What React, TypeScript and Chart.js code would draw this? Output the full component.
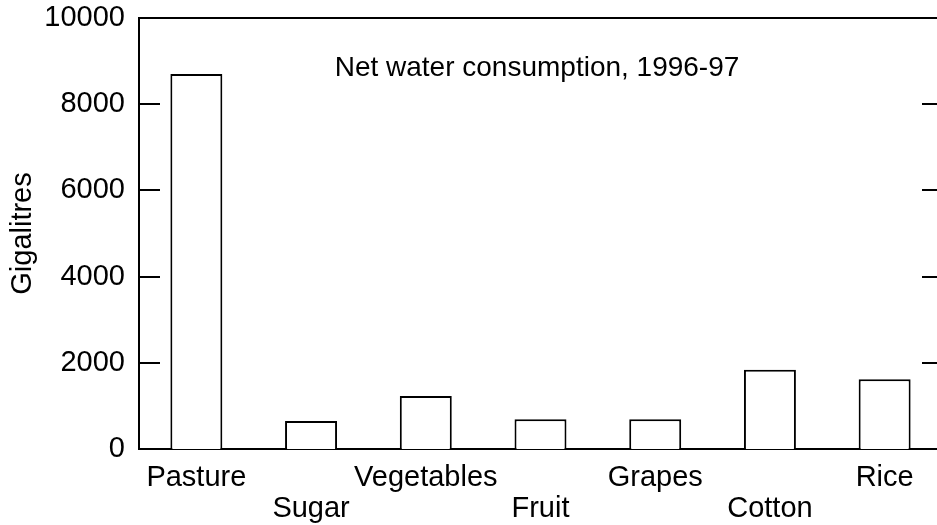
import React, { useEffect, useRef } from "react";
import { Chart, registerables } from "chart.js";

Chart.register(...registerables);

const categoryNames = ["Pasture", "Sugar", "Vegetables", "Fruit", "Grapes", "Cotton", "Rice"];
const labelRows = [0, 1, 0, 1, 0, 1, 0];
const consumption = [8700, 650, 1230, 690, 690, 1840, 1620];
const yTickValues = [0, 2000, 4000, 6000, 8000, 10000];
const innerTickValues = [2000, 4000, 6000, 8000];
const chartTitle = "Net water consumption, 1996-97";
const yAxisTitle = "Gigalitres";

const FONT = "'Liberation Sans', Arial, Helvetica, sans-serif";

const frameAndTitle = {
  id: "frameAndTitle",
  afterDraw(chart: any) {
    const { ctx, chartArea } = chart;
    const y = chart.scales.y;
    ctx.save();
    ctx.strokeStyle = "#000";
    ctx.lineWidth = 2;
    ctx.beginPath();
    ctx.moveTo(chartArea.left - 1, chartArea.top);
    ctx.lineTo(chartArea.right, chartArea.top);
    ctx.lineTo(chartArea.right, chartArea.bottom);
    innerTickValues.forEach((v) => {
      const py = Math.round(y.getPixelForValue(v));
      ctx.moveTo(chartArea.left, py);
      ctx.lineTo(chartArea.left + 21, py);
      ctx.moveTo(chartArea.right - 20, py);
      ctx.lineTo(chartArea.right, py);
    });
    ctx.stroke();
    ctx.fillStyle = "#000";
    ctx.font = `28px ${FONT}`;
    ctx.textAlign = "center";
    ctx.textBaseline = "middle";
    ctx.fillText(chartTitle, 537, 68);
    ctx.restore();
  },
};

export default function App() {
  const ref = useRef<HTMLCanvasElement | null>(null);

  useEffect(() => {
    if (!ref.current) return;
    const labels = categoryNames.map((n, i) => (labelRows[i] === 1 ? ["", n] : [n]));
    const chart = new Chart(ref.current, {
      type: "bar",
      data: {
        labels,
        datasets: [
          {
            data: consumption,
            backgroundColor: "#ffffff",
            borderColor: "#000000",
            borderWidth: 2,
            barPercentage: 0.453,
            categoryPercentage: 1,
          },
        ],
      },
      options: {
        animation: false,
        responsive: false,
        devicePixelRatio: 1,
        layout: { padding: { top: 18, right: 2, left: 0, bottom: 0 } },
        plugins: {
          legend: { display: false },
          tooltip: { enabled: false },
          title: { display: false },
        },
        scales: {
          x: {
            grid: { display: false, drawTicks: false },
            border: { display: true, color: "#000", width: 2 },
            ticks: {
              color: "#000",
              font: { family: FONT, size: 29, lineHeight: 1.05 },
              padding: 14,
              autoSkip: false,
              maxRotation: 0,
              minRotation: 0,
            },
            afterFit: (scale: any) => {
              scale.height = 76;
              scale.paddingLeft = 0;
              scale.paddingRight = 0;
            },
          },
          y: {
            min: 0,
            max: 10000,
            afterBuildTicks: (scale: any) => {
              scale.ticks = yTickValues.map((v) => ({ value: v }));
            },
            grid: { display: false, drawTicks: false },
            border: { display: true, color: "#000", width: 2 },
            ticks: {
              color: "#000",
              font: { family: FONT, size: 29 },
              padding: 14,
              callback: (v: any) => String(v),
            },
            title: {
              display: true,
              text: yAxisTitle,
              color: "#000",
              font: { family: FONT, size: 29 },
              padding: { top: 6, bottom: 0 },
            },
            afterFit: (scale: any) => {
              scale.width = 139;
              scale.paddingTop = 0;
              scale.paddingBottom = 0;
            },
          },
        },
      },
      plugins: [frameAndTitle],
    });
    return () => chart.destroy();
  }, []);

  return (
    <div
      style={{
        position: "fixed",
        left: 0,
        top: 0,
        width: 937,
        height: 525,
        overflow: "hidden",
        background: "#fff",
      }}
    >
      <canvas ref={ref} width={944} height={525} style={{ display: "block" }} />
    </div>
  );
}
